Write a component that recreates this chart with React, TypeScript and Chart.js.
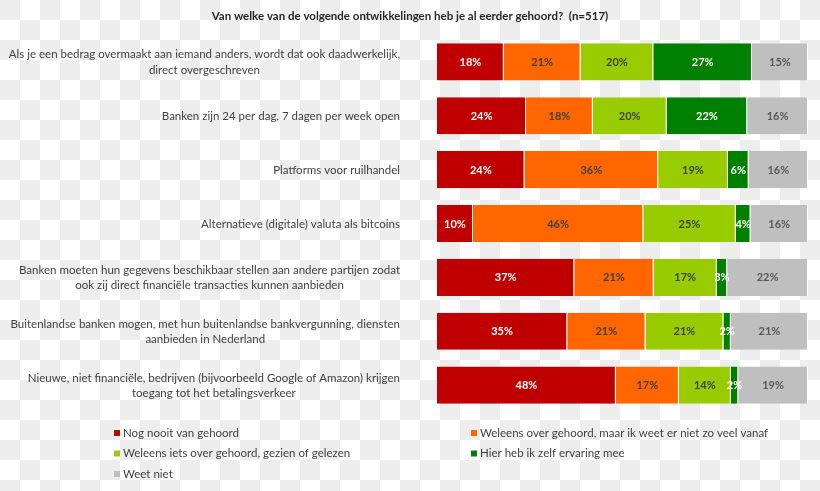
import React, { useEffect, useRef } from "react";
import { Chart, registerables } from "chart.js";

Chart.register(...registerables);

const titleText = "Van welke van de volgende ontwikkelingen heb je al eerder gehoord?  (n=517)";

const categories: string[][] = [
  ["Als je een bedrag overmaakt aan iemand anders, wordt dat ook daadwerkelijk,", "direct overgeschreven"],
  ["Banken zijn 24 per dag, 7 dagen per week open"],
  ["Platforms voor ruilhandel"],
  ["Alternatieve (digitale) valuta als bitcoins"],
  ["Banken moeten hun gegevens beschikbaar stellen aan andere partijen zodat", "ook zij direct financiële transacties kunnen aanbieden"],
  ["Buitenlandse banken mogen, met hun buitenlandse bankvergunning, diensten", "aanbieden in Nederland"],
  ["Nieuwe, niet financiële, bedrijven (bijvoorbeeld Google of Amazon) krijgen", "toegang tot het betalingsverkeer"],
];

const seriesNames = [
  "Nog nooit van gehoord",
  "Weleens over gehoord, maar ik weet er niet zo veel vanaf",
  "Weleens iets over gehoord, gezien of gelezen",
  "Hier heb ik zelf ervaring mee",
  "Weet niet",
];

const nooitValues = [18.0, 24.0, 23.6, 9.7, 37.0, 35.1, 48.2];
const weinigValues = [20.7, 18.0, 36.0, 45.9, 21.4, 21.1, 17.0];
const gezienValues = [19.6, 19.9, 18.8, 24.9, 17.0, 21.0, 14.0];
const ervaringValues = [26.6, 21.7, 5.6, 4.0, 2.8, 2.0, 2.0];
const weetNietValues = [15.1, 16.4, 16.0, 15.5, 21.8, 20.8, 18.8];

const seriesColors = ["#C00000", "#FF6600", "#99CC00", "#008000", "#BFBFBF"];
const labelColors = ["#FFFFFF", "#404040", "#404040", "#FFFFFF", "#595959"];

const FONT = "Lato, 'Liberation Sans', sans-serif";

const overlayPlugin = {
  id: "overlay",
  afterDatasetsDraw(chart: any) {
    const ctx = chart.ctx;
    const yScale = chart.scales.y;
    ctx.save();
    // Title
    ctx.fillStyle = "#262626";
    ctx.font = `bold 11.5px ${FONT}`;
    ctx.textAlign = "center";
    ctx.textBaseline = "middle";
    ctx.fillText(titleText, 410, 16);

    // Category labels (right-aligned block, lines centered)
    ctx.font = `11.5px ${FONT}`;
    ctx.fillStyle = "#404040";
    const lineH = 15.5;
    categories.forEach((lines, i) => {
      const yc = yScale.getPixelForValue(i) + 0.5;
      const maxW = Math.max(...lines.map((l) => ctx.measureText(l).width));
      const cx = 400 - maxW / 2;
      lines.forEach((l, j) => {
        const y = yc + (j - (lines.length - 1) / 2) * lineH;
        ctx.textAlign = "center";
        ctx.fillText(l, cx, y);
      });
    });

    // Data labels
    ctx.font = `bold 11px ${FONT}`;
    ctx.textAlign = "center";
    chart.data.datasets.forEach((ds: any, di: number) => {
      const meta = chart.getDatasetMeta(di);
      meta.data.forEach((el: any, i: number) => {
        const v = ds.data[i];
        const x = (el.x + el.base) / 2;
        ctx.fillStyle = labelColors[di];
        ctx.fillText(`${Math.round(v)}%`, x, el.y + 0.5);
      });
    });

    // Legend
    const pos = [
      [114, 433],
      [471, 433],
      [114, 453.5],
      [471, 453.5],
      [114, 474],
    ];
    ctx.font = `11.5px ${FONT}`;
    ctx.textAlign = "left";
    seriesNames.forEach((name, i) => {
      const [x, y] = pos[i];
      ctx.fillStyle = seriesColors[i];
      ctx.fillRect(x, y - 3, 6, 6);
      ctx.fillStyle = "#404040";
      ctx.fillText(name, x + 9, y);
    });
    ctx.restore();
  },
};

export default function App() {
  const ref = useRef<HTMLCanvasElement>(null);
  useEffect(() => {
    if (!ref.current) return;
    const valueSets = [nooitValues, weinigValues, gezienValues, ervaringValues, weetNietValues];
    const chart = new Chart(ref.current, {
      type: "bar",
      data: {
        labels: categories,
        datasets: valueSets.map((vals, i) => ({
          label: seriesNames[i],
          data: vals,
          backgroundColor: seriesColors[i],
          borderColor: "#FFFFFF",
          borderWidth: { top: 0, bottom: 0, left: 0, right: 1 },
          borderSkipped: false,
          barPercentage: 0.69,
          categoryPercentage: 1,
        })),
      },
      options: {
        indexAxis: "y",
        animation: false,
        responsive: false,
        maintainAspectRatio: false,
        layout: { padding: { left: 437, right: 12, top: 35, bottom: 79 } },
        scales: {
          x: { stacked: true, min: 0, max: 100, display: false },
          y: { stacked: true, display: false },
        },
        plugins: {
          legend: { display: false },
          title: { display: false },
          tooltip: { enabled: false },
        },
      },
      plugins: [overlayPlugin],
    } as any);
    return () => chart.destroy();
  }, []);
  return (
    <div
      style={{
        position: "fixed",
        left: 0,
        top: 0,
        width: 820,
        height: 491,
        background: "repeating-conic-gradient(#FFFFFF 0% 25%, #EDEDED 0% 50%) 0 0 / 40px 40px",
      }}
    >
      <canvas ref={ref} width={820} height={491} style={{ display: "block" }} />
    </div>
  );
}
